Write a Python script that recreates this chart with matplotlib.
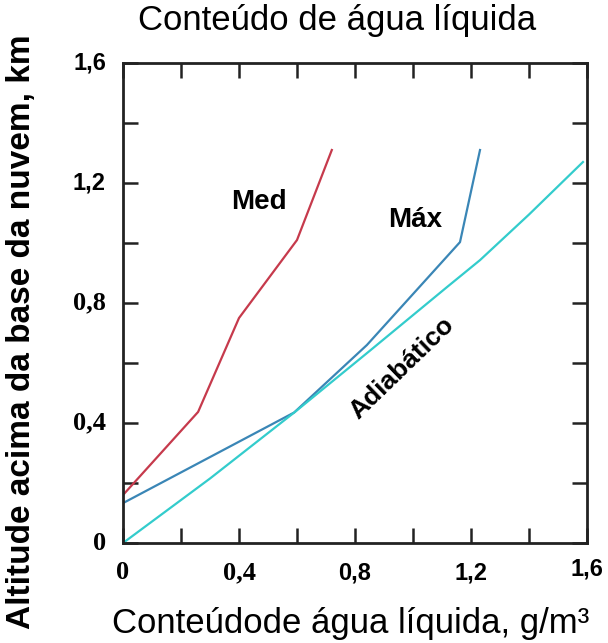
import matplotlib
matplotlib.use("Agg")
import matplotlib.pyplot as plt
from matplotlib.font_manager import FontProperties

# curves (x: g/m3, y: km)
med_x = [0.0, 0.259, 0.40, 0.60, 0.72]
med_y = [0.16, 0.437, 0.75, 1.01, 1.31]

max_x = [0.0, 0.59, 0.841, 1.162, 1.231]
max_y = [0.133, 0.435, 0.66, 1.003, 1.31]

adiab_x = [0.0, 0.3, 0.593, 0.85, 1.117, 1.231, 1.40, 1.586]
adiab_y = [0.0, 0.215, 0.437, 0.64, 0.853, 0.943, 1.095, 1.27]

major_ticks = [0.0, 0.4, 0.8, 1.2, 1.6]
minor_ticks = [0.2, 0.6, 1.0, 1.4]
tick_labels = ["0", "0,4", "0,8", "1,2", "1,6"]
x_serif = [True, True, False, False, False]
y_serif = [True, True, True, False, False]

SANS = "Liberation Sans"
SERIF = "Liberation Serif"
fp_sans = FontProperties(family=SANS, weight="bold", size=17)
fp_serif = FontProperties(family=SERIF, weight="bold", size=19)

fig = plt.figure(figsize=(6.08, 6.43), dpi=100)
ax = fig.add_axes([0.2023, 0.1555, 0.7632, 0.7465])

ax.plot(med_x, med_y, color="#C63A4C", lw=1.6)
ax.plot(max_x, max_y, color="#3A86B6", lw=1.6)
ax.plot(adiab_x, adiab_y, color="#33CCCC", lw=1.6)

ax.set_xlim(0, 1.6)
ax.set_ylim(0, 1.6)
ax.set_xticks(major_ticks)
ax.set_yticks(major_ticks)
ax.set_xticks(minor_ticks, minor=True)
ax.set_yticks(minor_ticks, minor=True)
ax.tick_params(which="both", direction="in", top=True, right=True,
               length=11, width=1.8, color="#222222",
               labelbottom=False, labelleft=False)
for sp in ax.spines.values():
    sp.set_linewidth(2.0)
    sp.set_color("#222222")

# tick labels mix a bold serif and a bold sans face, as in the original
for i, (val, lab, serif) in enumerate(zip(major_ticks, tick_labels, x_serif)):
    drop = -14 if i == len(major_ticks) - 1 else -18
    ax.annotate(lab, xy=(val, 0), xycoords=("data", "axes fraction"),
                xytext=(0, drop), textcoords="offset pixels",
                ha="center", va="top",
                fontproperties=fp_serif if serif else fp_sans)
for val, lab, serif in zip(major_ticks, tick_labels, y_serif):
    ax.annotate(lab, xy=(0, val), xycoords=("axes fraction", "data"),
                xytext=(-17, 0), textcoords="offset pixels",
                ha="right", va="center",
                fontproperties=fp_serif if serif else fp_sans)

ax.text(0.469, 1.137, "Med", fontfamily=SANS, fontweight="bold", fontsize=20,
        ha="center", va="center")
ax.text(1.007, 1.077, "Máx", fontfamily=SANS, fontweight="bold", fontsize=20,
        ha="center", va="center")
ax.text(0.962, 0.583, "Adiabático", fontfamily=SANS, fontweight="bold", fontsize=19,
        ha="center", va="center", rotation=44, rotation_mode="anchor")

fig.text(0.554, 0.968, "Conteúdo de água líquida", fontfamily=SANS, fontsize=25,
         ha="center", va="center")
fig.text(0.576, 0.031, "Conteúdode água líquida, g/m³", fontfamily=SANS, fontsize=25,
         ha="center", va="center")
fig.text(0.036, 0.484, "Altitude acima da base da nuvem, km", fontfamily=SANS,
         fontweight="bold", fontsize=24, rotation=90, ha="center", va="center")

fig.savefig("out.png", dpi=100, facecolor="white")
